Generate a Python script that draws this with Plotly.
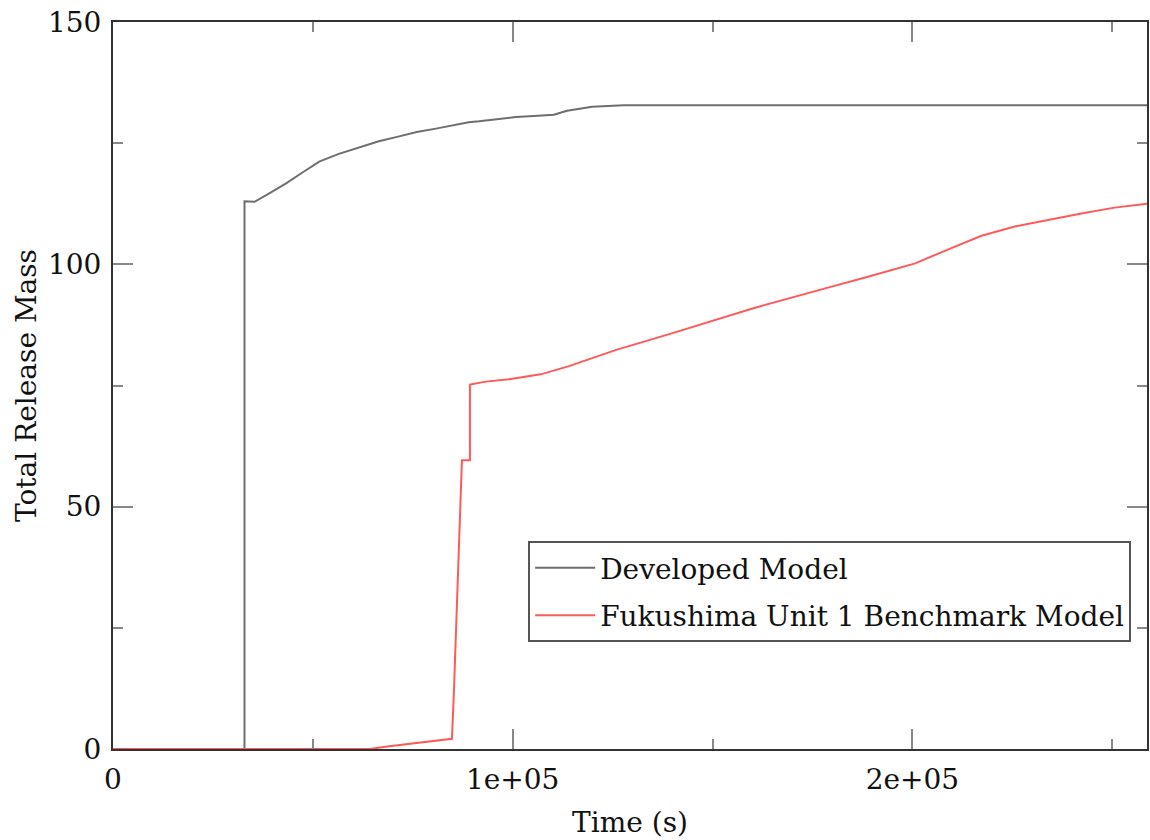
import plotly.graph_objects as go

# Time (s) and cumulative release mass for each model
developed_t = [0, 32900, 32900, 35400, 39000, 43300, 47500, 51600, 56500, 61600,
               66500, 71600, 76000, 80800, 85000, 89000, 91600, 96600, 100800,
               105300, 110300, 113600, 116600, 119900, 127800, 258700]
developed_m = [0, 0, 113.0, 112.9, 114.6, 116.7, 119.0, 121.2, 122.8, 124.2,
               125.4, 126.4, 127.3, 128.0, 128.7, 129.3, 129.5, 130.0, 130.4,
               130.6, 130.85, 131.7, 132.1, 132.5, 132.8, 132.8]

benchmark_t = [0, 64200, 69100, 76200, 79900, 84500, 84800, 85300, 87300,
               89300, 89300, 93300, 99100, 107000, 114100, 125700, 140000,
               160000, 171600, 179800, 188200, 200700, 209000, 217300,
               225600, 234000, 242300, 250600, 258100, 258700]
benchmark_m = [0, 0, 0.56, 1.24, 1.6, 2.1, 2.1, 12.0, 59.6,
               59.6, 75.2, 75.8, 76.3, 77.3, 79.0, 82.3, 85.8,
               90.9, 93.6, 95.4, 97.3, 100.2, 103.1, 105.9,
               107.8, 109.2, 110.5, 111.7, 112.4, 112.5]

x_tickvals = [0, 100000, 200000]
x_ticktext = ["0", "1e+05", "2e+05"]
y_tickvals = [0, 50, 100, 150]

FONT = "DejaVu Serif"
SIZE = 28

fig = go.Figure()
fig.add_trace(go.Scatter(x=developed_t, y=developed_m, mode="lines",
                         name="Developed Model", legendgroup="a",
                         line=dict(color="#6e6e6e", width=2)))
fig.add_trace(go.Scatter(x=benchmark_t, y=benchmark_m, mode="lines",
                         name="Fukushima Unit 1 Benchmark Model", legendgroup="b",
                         line=dict(color="#ff5a5a", width=2)))

axis_common = dict(
    showgrid=False, zeroline=False,
    showline=True, linecolor="#333333", linewidth=2, mirror="allticks",
    ticks="inside", ticklen=20, tickwidth=2, tickcolor="#888888",
    tickfont=dict(family=FONT, size=SIZE, color="#111111"),
)

fig.update_xaxes(
    range=[0, 258700], tickvals=x_tickvals, ticktext=x_ticktext,
    minor=dict(ticks="inside", ticklen=10, tickwidth=2, tickcolor="#888888",
               dtick=50000, tick0=0, showgrid=False),
    ticklabelstandoff=4,
    title=dict(text="Time (s)", font=dict(family=FONT, size=SIZE, color="#111111"),
               standoff=18),
    **axis_common,
)
fig.update_yaxes(
    range=[0, 150], tickvals=y_tickvals,
    minor=dict(ticks="inside", ticklen=10, tickwidth=2, tickcolor="#888888",
               dtick=25, tick0=0, showgrid=False),
    ticklabelstandoff=4,
    title=dict(text="Total Release Mass", font=dict(family=FONT, size=SIZE, color="#111111"),
               standoff=3),
    **axis_common,
)

fig.update_layout(
    width=1150, height=840,
    margin=dict(l=113, r=1, t=22, b=91),
    plot_bgcolor="white", paper_bgcolor="white",
    legend=dict(x=0.4015, y=0.286, xanchor="left", yanchor="top",
                bgcolor="white", bordercolor="#555555", borderwidth=2,
                font=dict(family=FONT, size=SIZE, color="#111111"),
                itemwidth=60, traceorder="grouped", tracegroupgap=8),
    showlegend=True,
)

fig.write_html("out.html")
